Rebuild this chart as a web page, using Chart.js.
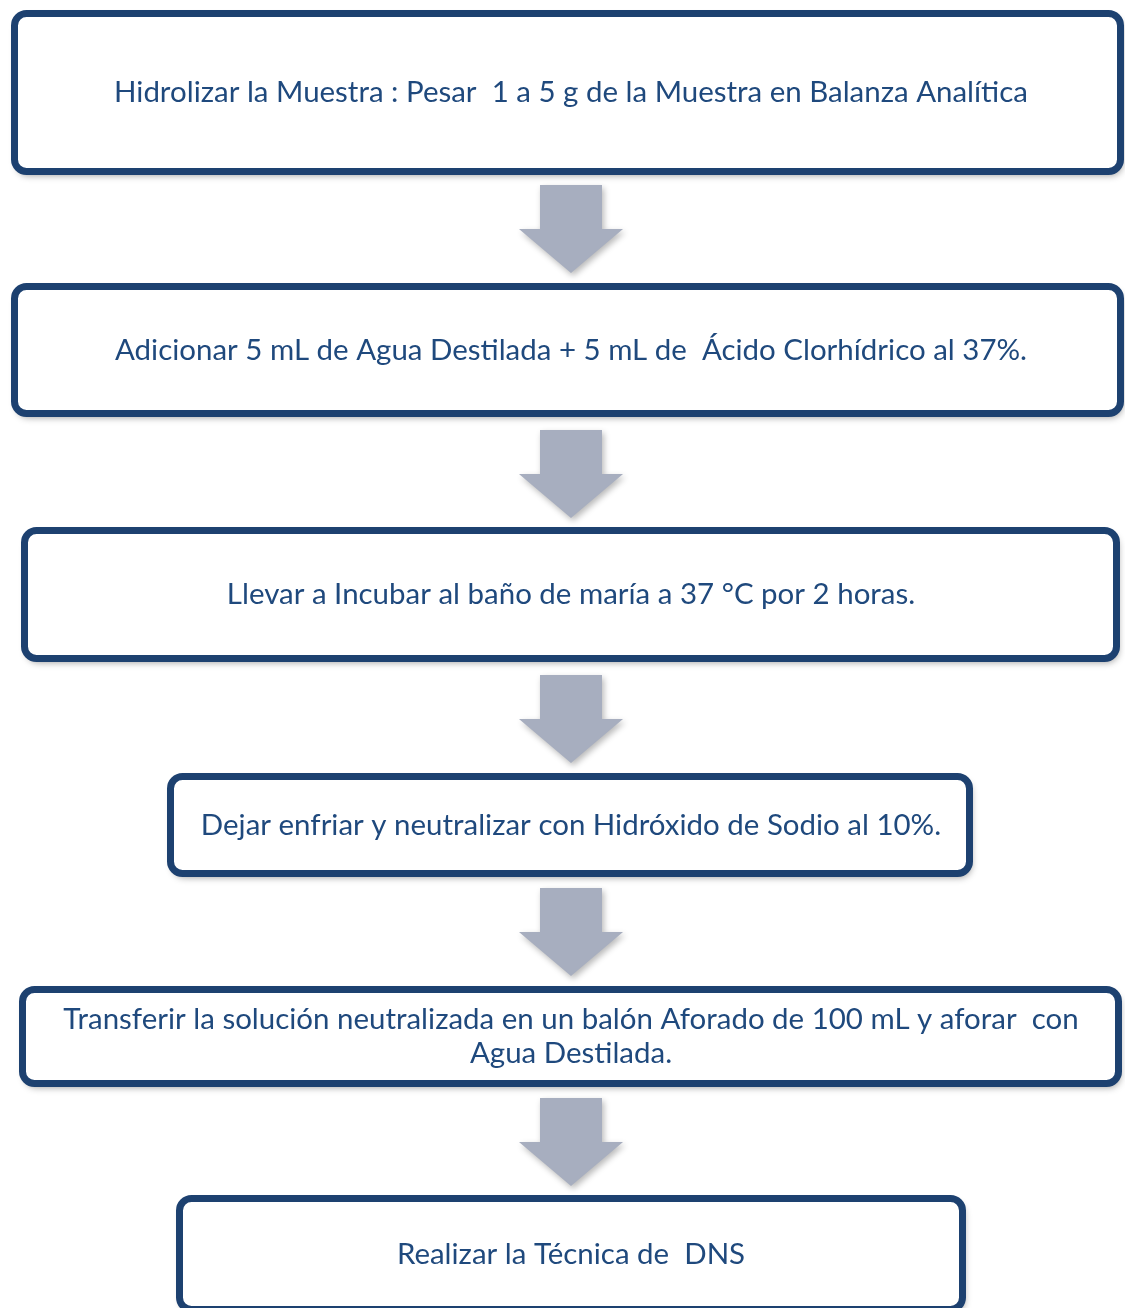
<!DOCTYPE html>
<html>
<head>
<meta charset="utf-8">
<script src="https://cdn.jsdelivr.net/npm/chart.js@4"></script>
<style>
  html, body { margin: 0; padding: 0; background: #ffffff; }
  #wrap { width: 1125px; height: 1308px; }
</style>
</head>
<body>
<div id="wrap"><canvas id="c" width="1125" height="1308"></canvas></div>
<script>
// ---- content (the flowchart steps) ----
const stepLines = [
  ["Hidrolizar la Muestra : Pesar  1 a 5 g de la Muestra en Balanza Analítica"],
  ["Adicionar 5 mL de Agua Destilada + 5 mL de  Ácido Clorhídrico al 37%."],
  ["Llevar a Incubar al baño de maría a 37 °C por 2 horas."],
  ["Dejar enfriar y neutralizar con Hidróxido de Sodio al 10%."],
  ["Transferir la solución neutralizada en un balón Aforado de 100 mL y aforar  con", "Agua Destilada."],
  ["Realizar la Técnica de  DNS"]
];

// ---- layout (outer edges of boxes, in page units) ----
const boxLeft   = [11, 11, 21, 167, 19, 176];
const boxRight  = [1124, 1124, 1120, 973, 1122, 966];
const boxTop    = [10, 283, 527, 773, 986, 1195];
const boxBottom = [175, 417, 662, 877, 1087, 1313];
const arrowTop  = [185, 430, 675, 888, 1098];

const COLORS = { border: '#1D4170', text: '#1F497D', arrow: '#A7AEBF' };
const FONT_FAMILY = 'Lato, "Open Sans", "Liberation Sans", sans-serif';
const TARGET_FIRST_LINE_WIDTH = 914;

function roundRect(ctx, x, y, w, h, r) {
  ctx.beginPath();
  ctx.moveTo(x + r, y);
  ctx.lineTo(x + w - r, y);
  ctx.arcTo(x + w, y, x + w, y + r, r);
  ctx.lineTo(x + w, y + h - r);
  ctx.arcTo(x + w, y + h, x + w - r, y + h, r);
  ctx.lineTo(x + r, y + h);
  ctx.arcTo(x, y + h, x, y + h - r, r);
  ctx.lineTo(x, y + r);
  ctx.arcTo(x, y, x + r, y, r);
  ctx.closePath();
}

const flowPlugin = {
  id: 'flow',
  afterDraw(chart) {
    const ctx = chart.ctx;
    const sx = chart.scales.x, sy = chart.scales.y;
    const px = v => sx.getPixelForValue(v);
    const py = v => sy.getPixelForValue(v);
    const bw = 7;

    // font size fitted so the first line matches reference width
    ctx.save();
    ctx.font = '100px ' + FONT_FAMILY;
    const w100 = ctx.measureText(stepLines[0][0]).width;
    ctx.restore();
    const fs = 100 * TARGET_FIRST_LINE_WIDTH / w100;

    // arrows
    arrowTop.forEach(t => {
      const cx = px(571);
      const y0 = py(t), yH = py(t + 44), yT = py(t + 88);
      ctx.save();
      ctx.shadowColor = 'rgba(0,0,0,0.28)';
      ctx.shadowBlur = 6;
      ctx.shadowOffsetX = 2;
      ctx.shadowOffsetY = 3;
      ctx.fillStyle = COLORS.arrow;
      ctx.beginPath();
      ctx.moveTo(cx - 31, y0);
      ctx.lineTo(cx + 31, y0);
      ctx.lineTo(cx + 31, yH);
      ctx.lineTo(cx + 52, yH);
      ctx.lineTo(cx, yT);
      ctx.lineTo(cx - 52, yH);
      ctx.lineTo(cx - 31, yH);
      ctx.closePath();
      ctx.fill();
      ctx.restore();
    });

    // boxes
    stepLines.forEach((lines, i) => {
      const x0 = px(boxLeft[i]) + bw / 2, x1 = px(boxRight[i]) - bw / 2;
      const y0 = py(boxTop[i]) + bw / 2, y1 = py(boxBottom[i]) - bw / 2;
      ctx.save();
      ctx.shadowColor = 'rgba(0,0,0,0.38)';
      ctx.shadowBlur = 7;
      ctx.shadowOffsetX = 2;
      ctx.shadowOffsetY = 4;
      roundRect(ctx, x0, y0, x1 - x0, y1 - y0, 12);
      ctx.fillStyle = '#ffffff';
      ctx.fill();
      ctx.shadowColor = 'rgba(0,0,0,0)';
      ctx.lineWidth = bw;
      ctx.strokeStyle = COLORS.border;
      ctx.stroke();
      ctx.restore();

      ctx.save();
      ctx.fillStyle = COLORS.text;
      ctx.font = fs.toFixed(2) + 'px ' + FONT_FAMILY;
      ctx.textAlign = 'center';
      ctx.textBaseline = 'middle';
      const cy = (py(boxTop[i]) + py(boxBottom[i])) / 2;
      const lh = 34;
      lines.forEach((ln, k) => {
        const y = cy + (k - (lines.length - 1) / 2) * lh;
        ctx.fillText(ln, px(571), y);
      });
      ctx.restore();
    });
  }
};

new Chart(document.getElementById('c'), {
  type: 'scatter',
  data: { datasets: [{ data: [], pointRadius: 0 }] },
  options: {
    responsive: false,
    animation: false,
    devicePixelRatio: 1,
    layout: { padding: 0 },
    plugins: { legend: { display: false }, tooltip: { enabled: false } },
    scales: {
      x: { type: 'linear', min: 0, max: 1125, display: false },
      y: { type: 'linear', min: 0, max: 1308, reverse: true, display: false }
    }
  },
  plugins: [flowPlugin]
});
</script>
</body>
</html>
